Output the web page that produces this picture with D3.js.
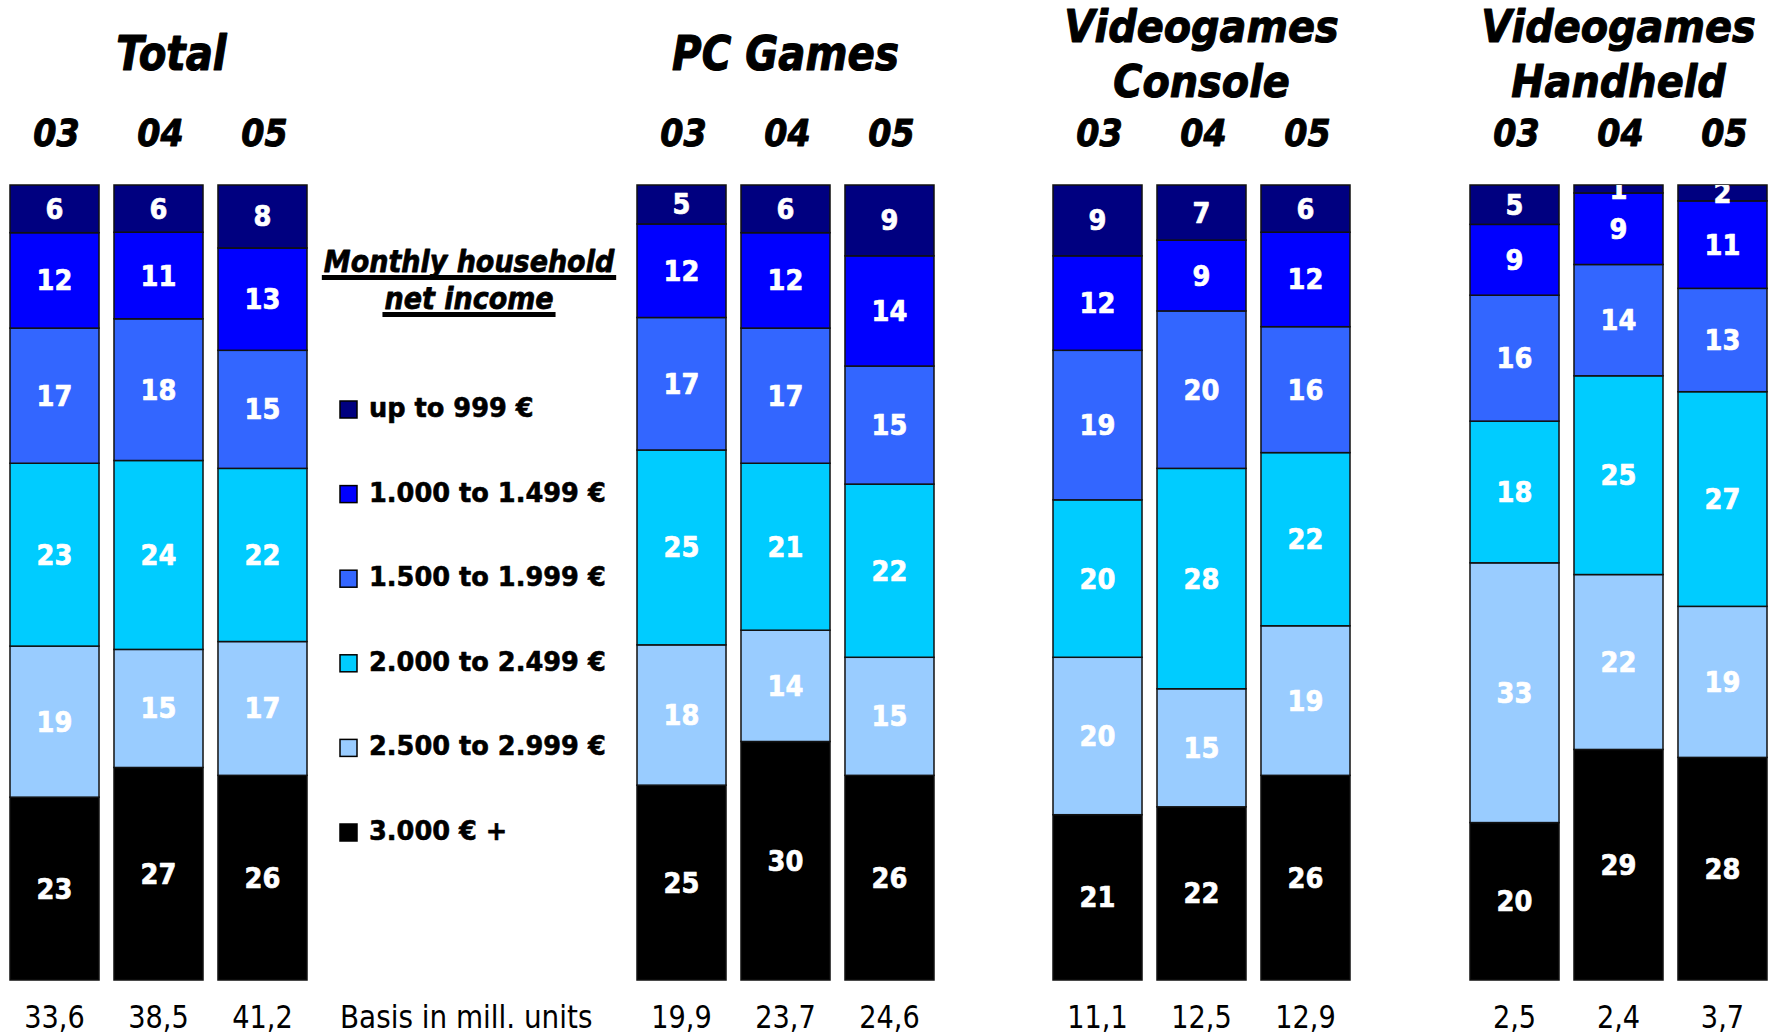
<!DOCTYPE html>
<html>
<head>
<meta charset="utf-8">
<script src="https://cdn.jsdelivr.net/npm/d3@7"></script>
<style>
  body { margin: 0; background: #fff; }
  svg text { font-family: "DejaVu Sans", Verdana, sans-serif; }
</style>
</head>
<body>
<div id="chart"></div>
<script>
// Categories and years
const titles = [["Total"], ["PC Games"], ["Videogames", "Console"], ["Videogames", "Handheld"]];
const years = ["03", "04", "05"];
const incomeBands = ["up to 999 €", "1.000 to 1.499 €", "1.500 to 1.999 €",
    "2.000 to 2.499 €", "2.500 to 2.999 €", "3.000 € +"];

// Share in % per income band, 12 bars (4 groups x 3 years)
const upTo999  = [6, 6, 8,   5, 6, 9,   9, 7, 6,   5, 1, 2];
const from1000 = [12, 11, 13, 12, 12, 14, 12, 9, 12, 9, 9, 11];
const from1500 = [17, 18, 15, 17, 17, 15, 19, 20, 16, 16, 14, 13];
const from2000 = [23, 24, 22, 25, 21, 22, 20, 28, 22, 18, 25, 27];
const from2500 = [19, 15, 17, 18, 14, 15, 20, 15, 19, 33, 22, 19];
const from3000 = [23, 27, 26, 25, 30, 26, 21, 22, 26, 20, 29, 28];

// Basis in mill. units
const basis = ["33,6", "38,5", "41,2", "19,9", "23,7", "24,6", "11,1", "12,5", "12,9", "2,5", "2,4", "3,7"];

const bandColors = ["#000080", "#0000ff", "#3366ff", "#00ccff", "#99ccff", "#000000"];
const bandSeries = [upTo999, from1000, from1500, from2000, from2500, from3000];

const W = 1775, H = 1035;
const groupX = [10, 637, 1053, 1470];   // left edge of each group of bars
const groupW = 297;
const barTop = 185, barBottom = 980;

const svg = d3.select("#chart").append("svg")
    .attr("width", W).attr("height", H);

// build one row per bar
const rows = [];
titles.forEach((t, g) => {
    years.forEach((yr, i) => {
        const idx = g * 3 + i;
        const row = { group: g, year: yr, idx };
        incomeBands.forEach((b, k) => { row[b] = bandSeries[k][idx]; });
        rows.push(row);
    });
});

// bottom band first so "up to 999" ends up at the top
const stack = d3.stack()
    .keys(incomeBands.slice().reverse())
    .offset(d3.stackOffsetExpand);
const series = stack(rows);

const color = d3.scaleOrdinal().domain(incomeBands).range(bandColors);
const y = d3.scaleLinear().domain([0, 1]).range([barBottom, barTop]);
const xBand = titles.map((t, g) => d3.scaleBand()
    .domain(years)
    .range([groupX[g], groupX[g] + groupW])
    .paddingInner(0.144)
    .paddingOuter(0));
const xOf = d => xBand[d.data.group](d.data.year);
const bw = xBand[0].bandwidth();

// text helper: DejaVu is wider than the original face, so squeeze it
function label(sel, x, yy, sx, sy) {
    return sel.attr("x", 0).attr("y", 0)
        .attr("transform", `translate(${x},${yy}) scale(${sx},${sy || 1})`);
}
// a thin outline in the text colour makes the bold face a bit heavier
function heavy(sel, col, w) {
    return sel.attr("fill", col).attr("stroke", col).attr("stroke-width", w)
        .attr("stroke-linejoin", "round");
}

// bars
const layer = svg.append("g").selectAll("g")
    .data(series)
    .join("g")
    .attr("fill", s => color(s.key));

layer.selectAll("rect")
    .data(s => s)
    .join("rect")
    .attr("x", xOf)
    .attr("y", d => y(d[1]))
    .attr("width", bw)
    .attr("height", d => y(d[0]) - y(d[1]))
    .attr("stroke", "#111")
    .attr("stroke-width", 1.5);

// value labels, clipped to the bar area
svg.append("clipPath").attr("id", "barclip")
    .append("rect").attr("x", 0).attr("y", barTop).attr("width", W).attr("height", barBottom - barTop);

const valLayer = svg.append("g").attr("clip-path", "url(#barclip)");
series.forEach(s => {
    s.forEach(d => {
        const v = d.data[s.key];
        const cy = (y(d[0]) + y(d[1])) / 2;
        heavy(label(valLayer.append("text"), xOf(d) + bw / 2, cy + 10, 0.92), "#fff", 0.7)
            .attr("text-anchor", "middle")
            .attr("font-size", 28)
            .attr("font-weight", "bold")
            .text(v);
    });
});

// group titles
titles.forEach((t, g) => {
    const cx = xBand[g]("04") + bw / 2 + (g === 0 ? 13 : 0);
    if (t.length === 1) {
        heavy(label(svg.append("text"), cx, 70, 0.84), "#000", 1.2)
            .attr("text-anchor", "middle").attr("font-size", 48)
            .attr("font-weight", "bold").attr("font-style", "italic")
            .text(t[0]);
    } else {
        [42, 97].forEach((by, j) => {
            heavy(label(svg.append("text"), cx, by, 0.83, 0.93), "#000", 1.2)
                .attr("text-anchor", "middle").attr("font-size", 48)
                .attr("font-weight", "bold").attr("font-style", "italic")
                .text(t[j]);
        });
    }
    years.forEach(yr => {
        heavy(label(svg.append("text"), xBand[g](yr) + bw / 2 + 2, 146, 0.9), "#000", 1)
            .attr("text-anchor", "middle").attr("font-size", 37)
            .attr("font-weight", "bold").attr("font-style", "italic")
            .text(yr);
    });
});

// basis numbers under the bars
rows.forEach((r, i) => {
    label(svg.append("text"), xBand[r.group](r.year) + bw / 2, 1028, 0.85)
        .attr("text-anchor", "middle").attr("font-size", 32)
        .text(basis[i]);
});
label(svg.append("text"), 340, 1028, 0.87)
    .attr("font-size", 32)
    .text("Basis in mill. units");

// legend heading with thick underlines
const headX = 469;
[["Monthly household", 272], ["net income", 309]].forEach(([txt, by]) => {
    const sx = 0.87;
    const t = heavy(label(svg.append("text"), headX, by, sx), "#000", 0.8)
        .attr("text-anchor", "middle").attr("font-size", 31)
        .attr("font-weight", "bold").attr("font-style", "italic")
        .text(txt);
    const len = t.node().getComputedTextLength() * sx;
    svg.append("rect")
        .attr("x", headX - len / 2 - 2).attr("y", by + 3)
        .attr("width", len + 4).attr("height", 5)
        .attr("fill", "#000");
});

// legend items
const legendY = d3.scalePoint().domain(incomeBands).range([417, 840]);
const legend = svg.append("g").selectAll("g")
    .data(incomeBands)
    .join("g");
legend.append("rect")
    .attr("x", 340).attr("y", d => legendY(d) - 16)
    .attr("width", 17).attr("height", 17)
    .attr("fill", d => color(d))
    .attr("stroke", "#000").attr("stroke-width", 1.5);
legend.each(function (d) {
    heavy(label(d3.select(this).append("text"), 369, legendY(d), 0.95), "#000", 0.6)
        .attr("font-size", 27).attr("font-weight", "bold")
        .text(d);
});
</script>
</body>
</html>
